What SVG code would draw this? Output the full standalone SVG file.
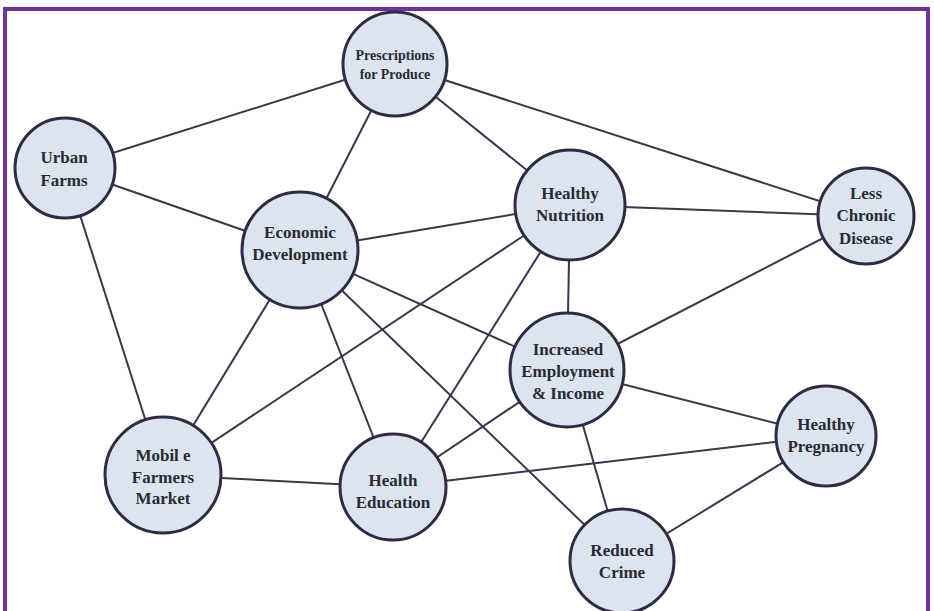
<svg xmlns="http://www.w3.org/2000/svg" width="934" height="611" viewBox="0 0 934 611">
<style>
.n{fill:#dce4f0;stroke:#2e2c44;stroke-width:3}
.t{font-family:'Liberation Serif',serif;font-weight:bold;font-size:17px;fill:#2a2a33;text-anchor:middle}
.s{font-size:14px}
#edges line{stroke:#3a3650;stroke-width:2}
</style>
<rect x="0" y="0" width="934" height="611" fill="#ffffff"/>
<rect x="5" y="9" width="923" height="640" fill="none" stroke="#7030a0" stroke-width="4"/>
<g id="edges">
<line x1="395" y1="64" x2="65" y2="168"/>
<line x1="395" y1="64" x2="300" y2="250"/>
<line x1="395" y1="64" x2="570" y2="205"/>
<line x1="395" y1="64" x2="866" y2="216"/>
<line x1="65" y1="168" x2="300" y2="250"/>
<line x1="65" y1="168" x2="163" y2="475"/>
<line x1="300" y1="250" x2="570" y2="205"/>
<line x1="570" y1="205" x2="866" y2="216"/>
<line x1="300" y1="250" x2="567" y2="370"/>
<line x1="300" y1="250" x2="163" y2="475"/>
<line x1="300" y1="250" x2="393" y2="487"/>
<line x1="300" y1="250" x2="622" y2="561"/>
<line x1="570" y1="205" x2="163" y2="475"/>
<line x1="570" y1="205" x2="393" y2="487"/>
<line x1="570" y1="205" x2="567" y2="370"/>
<line x1="866" y1="216" x2="567" y2="370"/>
<line x1="567" y1="370" x2="393" y2="487"/>
<line x1="567" y1="370" x2="826" y2="436"/>
<line x1="567" y1="370" x2="622" y2="561"/>
<line x1="163" y1="475" x2="393" y2="487"/>
<line x1="393" y1="487" x2="826" y2="436"/>
<line x1="826" y1="436" x2="622" y2="561"/>
</g>
<g font-family="Liberation Serif, serif">
<g id="prescriptions"><circle class="n" cx="395" cy="64" r="52"/><text class="t s" x="395" y="60">Prescriptions</text><text class="t s" x="395" y="79">for Produce</text></g>
<g id="urban-farms"><circle class="n" cx="65" cy="168" r="50"/><text class="t" x="64" y="163">Urban</text><text class="t" x="64" y="186">Farms</text></g>
<g id="economic-development"><circle class="n" cx="300" cy="250" r="58"/><text class="t" x="300" y="238">Economic</text><text class="t" x="300" y="260">Development</text></g>
<g id="healthy-nutrition"><circle class="n" cx="570" cy="205" r="55"/><text class="t" x="570" y="199">Healthy</text><text class="t" x="570" y="221">Nutrition</text></g>
<g id="less-chronic-disease"><circle class="n" cx="866" cy="216" r="48"/><text class="t" x="866" y="199">Less</text><text class="t" x="866" y="221">Chronic</text><text class="t" x="866" y="244">Disease</text></g>
<g id="increased-employment"><circle class="n" cx="567" cy="370" r="57"/><text class="t" x="568" y="355">Increased</text><text class="t" x="568" y="377">Employment</text><text class="t" x="568" y="399">&amp; Income</text></g>
<g id="mobile-farmers-market"><circle class="n" cx="163" cy="475" r="58"/><text class="t" x="163" y="461">Mobil e</text><text class="t" x="163" y="483">Farmers</text><text class="t" x="163" y="504">Market</text></g>
<g id="health-education"><circle class="n" cx="393" cy="487" r="53"/><text class="t" x="393" y="486">Health</text><text class="t" x="393" y="508">Education</text></g>
<g id="healthy-pregnancy"><circle class="n" cx="826" cy="436" r="50"/><text class="t" x="826" y="430">Healthy</text><text class="t" x="826" y="452">Pregnancy</text></g>
<g id="reduced-crime"><circle class="n" cx="622" cy="561" r="52"/><text class="t" x="622" y="556">Reduced</text><text class="t" x="622" y="578">Crime</text></g>
</g>
</svg>
